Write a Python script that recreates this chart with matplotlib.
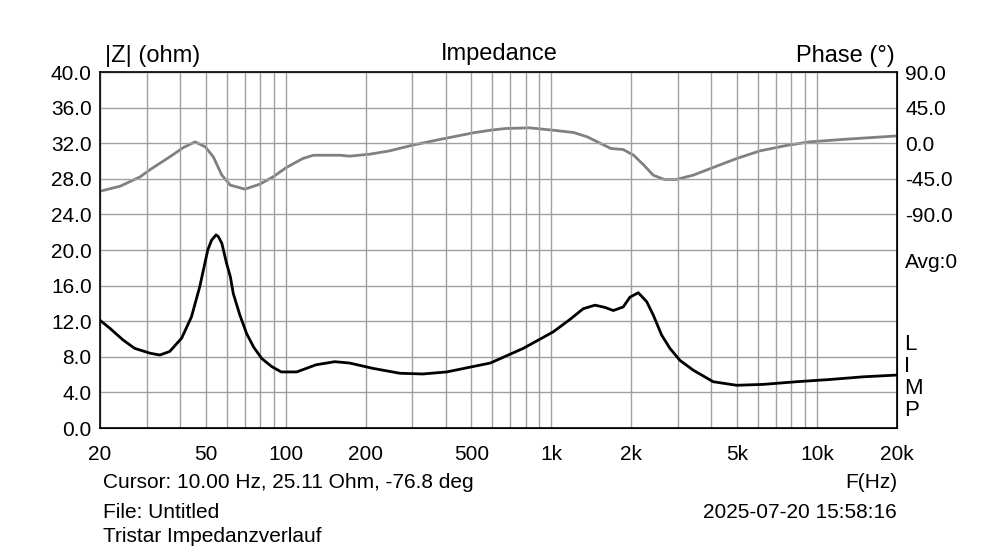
import numpy as np
import matplotlib
matplotlib.use("Agg")
import matplotlib.pyplot as plt

plt.rcParams['font.family'] = ['Liberation Sans', 'DejaVu Sans']
plt.rcParams['font.size'] = 15

# impedance magnitude (ohm)
z_freq = [20, 21.8, 24.4, 27, 30.9, 33.6, 36.6, 40.6, 44.2, 47.5, 49.0, 50.9, 52.6,
          54.7, 55.8, 57.5, 59.9, 61.9, 63.5, 67.2, 71.3, 75.7, 81.3, 88.6, 96.2,
          110, 130, 153, 174, 213, 269, 328, 404, 506, 589, 784, 1016, 1175, 1318,
          1459, 1591, 1710, 1864, 1976, 2124, 2284, 2418, 2600, 2794, 3048, 3420,
          4065, 4980, 6270, 8380, 11180, 14900, 20000]
z_ohm = [12.1, 11.2, 9.9, 8.95, 8.4, 8.2, 8.6, 10.1, 12.5, 15.9, 17.75, 20.0, 21.1,
         21.7, 21.5, 20.75, 18.5, 17.0, 15.1, 12.7, 10.6, 9.1, 7.8, 6.9, 6.3,
         6.3, 7.1, 7.45, 7.3, 6.7, 6.15, 6.07, 6.3, 6.9, 7.3, 8.95, 10.8, 12.2, 13.4,
         13.8, 13.55, 13.2, 13.6, 14.7, 15.2, 14.2, 12.7, 10.45, 8.95, 7.6, 6.5,
         5.2, 4.8, 4.9, 5.2, 5.45, 5.75, 5.95]

# phase (deg)
p_freq = [20, 23.8, 28.3, 30.9, 36.6, 41.2, 45.6, 49.8, 53.4, 57.5, 61.9, 70.2,
          79.9, 89.6, 100.6, 116, 127, 160, 174, 207, 246, 300, 380, 506, 589,
          674, 828, 1016, 1213, 1365, 1534, 1675, 1864, 2040, 2230, 2418, 2660,
          2950, 3420, 4065, 4980, 6100, 7770, 9400, 12800, 20000]
p_deg = [-60.7, -54.4, -42.6, -33.3, -17.3, -5.5, 1.7, -4.6, -17.3, -40.4, -53,
         -58.1, -51.8, -42.6, -30.7, -19.4, -15.2, -15.2, -16.4, -13.9, -9.7,
         -2.5, 4.7, 13, 16.4, 18.6, 19.4, 16.4, 13.5, 8, -0.4, -6.7, -8, -15.2,
         -27.8, -40.4, -45.9, -45.9, -40.4, -30.7, -19.4, -9.7, -2.5, 1.7, 5,
         9.2]

x_ticks = [20, 50, 100, 200, 500, 1000, 2000, 5000, 10000, 20000]
x_labels = ['20', '50', '100', '200', '500', '1k', '2k', '5k', '10k', '20k']
z_ticks = np.arange(0, 41, 4)
p_ticks = [90, 45, 0, -45, -90]

fig = plt.figure(figsize=(10, 5.52), dpi=100)
ax = fig.add_axes([0.1, 1 - 428 / 552, 0.797, 356 / 552])

ax.set_xscale('log')
ax.set_xlim(20, 20000)
ax.set_ylim(0, 40)

minor = [m * d for d in (10, 100, 1000, 10000) for m in range(2, 10)
         if 20 <= m * d <= 20000 and m * d not in x_ticks]
ax.set_xticks(x_ticks)
ax.set_xticklabels(x_labels)
ax.set_xticks(minor, minor=True)
ax.set_xticklabels([], minor=True)
ax.set_yticks(z_ticks)
ax.set_yticklabels(['%.1f' % v for v in z_ticks])
ax.grid(True, which='both', color='#a0a0a0', linewidth=1)
ax.tick_params(which='both', length=0)
ax.tick_params(axis='y', pad=6)
ax.tick_params(axis='x', pad=12)
for s in ax.spines.values():
    s.set_linewidth(1.2)

ax2 = ax.twinx()
ax2.set_ylim(-360, 90)
ax2.set_yticks(p_ticks)
ax2.set_yticklabels(['%.1f' % v for v in p_ticks])
ax2.tick_params(length=0, pad=6)

ax2.plot(p_freq, p_deg, color='#808080', linewidth=2)
ax.plot(z_freq, z_ohm, color='black', linewidth=2, zorder=5)
ax.set_zorder(ax2.get_zorder() + 1)
ax.patch.set_visible(False)

fig.text(0.105, 1 - 56 / 552, '|Z| (ohm)', ha='left', va='center', fontsize=17)
fig.text(0.499, 1 - 54 / 552, 'Impedance', ha='center', va='center', fontsize=17)
fig.text(0.895, 1 - 56 / 552, 'Phase (°)', ha='right', va='center', fontsize=17)
fig.text(0.905, 1 - 263 / 552, 'Avg:0', ha='left', va='center')
for lbl, yy in zip('LIMP', [345, 367, 389, 411]):
    fig.text(0.904, 1 - yy / 552, lbl, ha='left', va='center', fontsize=16)

fig.text(0.103, 1 - 482 / 552, 'Cursor: 10.00 Hz, 25.11 Ohm, -76.8 deg', ha='left', va='center')
fig.text(0.897, 1 - 482 / 552, 'F(Hz)', ha='right', va='center')
fig.text(0.103, 1 - 512 / 552, 'File: Untitled', ha='left', va='center')
fig.text(0.897, 1 - 512 / 552, '2025-07-20 15:58:16', ha='right', va='center')
fig.text(0.103, 1 - 536 / 552, 'Tristar Impedanzverlauf', ha='left', va='center')

fig.savefig('out.png', dpi=100, facecolor='white')
